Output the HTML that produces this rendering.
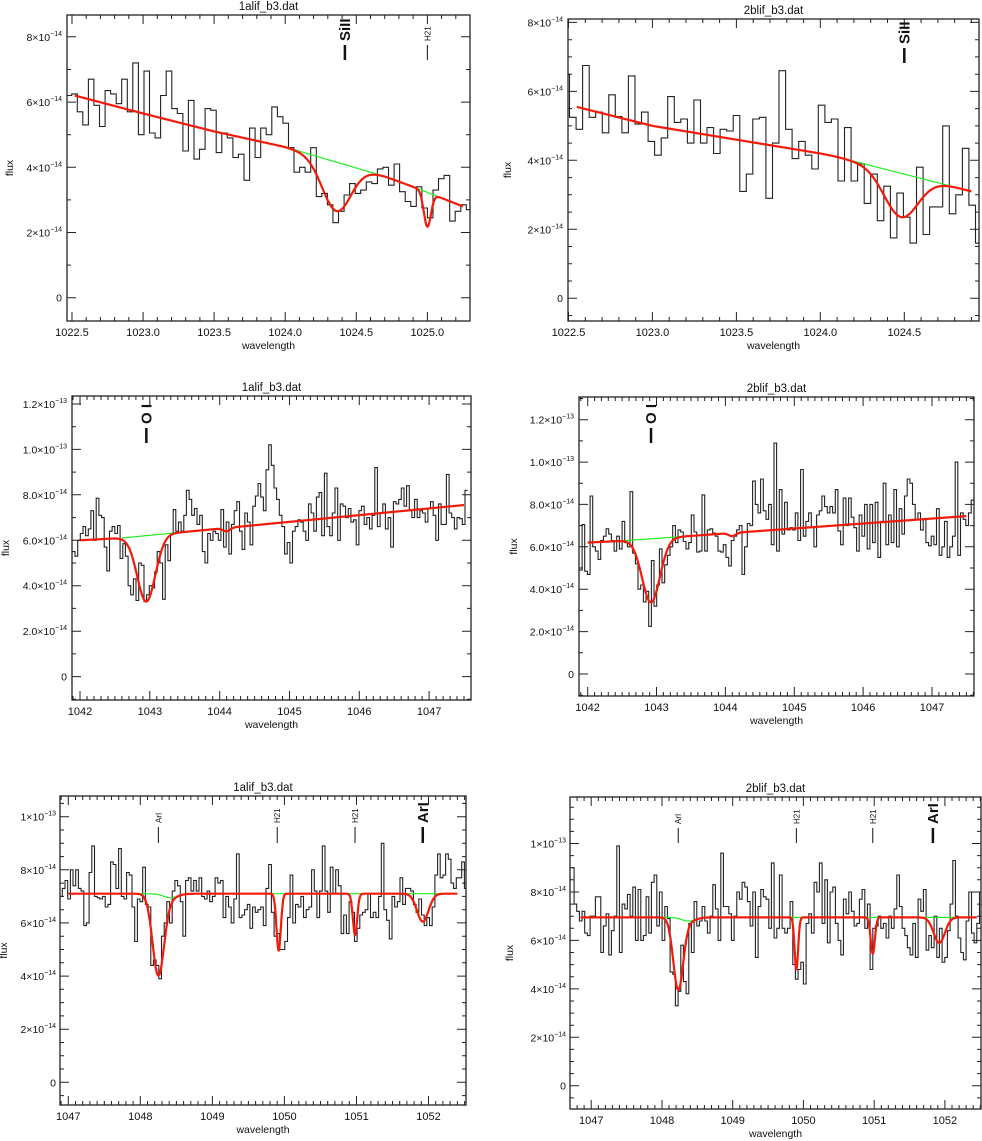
<!DOCTYPE html>
<html><head><meta charset="utf-8">
<style>
html,body{margin:0;padding:0;background:#fff;}
svg{display:block;font-family:"Liberation Sans",sans-serif;}
</style></head>
<body>
<svg id="fig" width="982" height="1141" viewBox="0 0 982 1141" xmlns="http://www.w3.org/2000/svg"></svg>
<script>
// ---- data (flux in units of 1e-14) ----
const p1Flux=[6.2,6.25,5.7,5.3,6.7,5.9,5.25,6.35,6.25,5.95,6.7,5.7,7.2,5.0,6.95,5.05,4.9,6.2,6.95,5.8,5.65,4.5,6.05,4.25,4.55,5.8,5.75,4.45,5.05,4.9,4.3,4.4,3.6,5.2,4.3,5.2,5.0,5.85,5.55,5.35,4.6,3.85,4.0,3.85,4.6,3.1,3.2,2.85,2.3,2.65,3.15,3.5,3.2,3.3,3.55,3.5,3.95,4.0,3.45,4.1,3.25,2.95,2.8,3.4,2.75,2.45,3.3,3.65,3.75,2.35,2.65,2.85,2.7];
const p2Flux=[6.5,5.25,4.9,6.75,5.25,5.4,4.8,5.9,5.27,4.8,6.45,5.05,5.4,4.55,4.15,4.65,5.85,5.1,5.2,4.5,5.75,4.5,4.95,4.2,4.9,4.85,5.3,3.1,3.6,5.2,5.25,2.9,4.5,6.6,4.9,4.05,4.55,4.15,3.75,5.6,5.1,5.2,3.4,4.95,3.4,3.9,2.75,3.6,2.25,3.25,1.75,3.05,2.35,1.6,3.8,1.85,2.65,2.65,5.0,2.45,3.0,4.35,2.7,1.6];
const p3Flux=[5.5,5.3,6.0,6.3,6.6,6.2,6.5,7.3,6.0,7.85,7.1,7.0,5.7,4.65,6.4,6.6,6.3,6.65,5.2,5.85,5.3,4.0,3.6,4.3,3.35,5.0,4.9,3.3,3.6,4.0,3.9,4.6,5.5,5.0,3.4,5.8,5.1,6.3,7.35,6.4,6.8,6.4,7.1,8.2,7.8,7.1,7.4,6.7,7.1,5.5,5.0,6.3,6.0,6.4,6.3,6.0,7.35,5.7,6.8,5.4,6.7,7.3,7.7,6.4,5.6,7.2,6.8,5.8,7.5,7.95,8.5,7.9,7.3,9.1,10.2,9.3,8.3,7.8,7.1,6.6,5.4,5.9,5.0,6.4,6.6,6.9,6.8,6.4,6.0,7.6,7.2,6.4,7.9,8.1,6.2,8.95,6.6,6.2,7.2,8.3,6.0,7.6,7.5,7.0,7.4,6.8,6.9,5.8,7.3,7.5,6.7,7.0,6.5,7.1,9.2,6.6,7.2,7.6,6.5,7.0,5.7,7.7,7.6,7.8,8.3,7.5,8.4,7.3,7.0,7.8,7.0,7.3,7.2,6.8,7.4,7.7,7.1,6.0,7.6,6.7,6.7,8.9,7.2,7.0,6.5,7.0,6.95,6.7,8.2];
const p4Flux=[4.9,7.05,4.85,4.7,8.4,6.0,5.8,5.4,6.3,6.5,6.85,6.6,6.3,5.8,6.5,5.9,7.2,6.2,6.0,8.6,5.7,5.2,4.0,4.2,3.4,3.9,2.25,5.35,3.2,4.2,5.9,4.3,5.15,5.6,6.0,7.0,6.2,6.8,6.7,6.25,5.9,6.2,7.5,6.7,5.75,5.8,8.45,5.8,6.8,6.85,6.65,6.5,5.8,5.75,6.1,5.5,5.1,6.3,6.5,6.8,7.0,4.7,6.0,7.1,7.0,9.1,8.0,7.6,9.2,7.7,7.3,8.0,6.1,10.9,5.8,8.7,6.6,8.1,6.8,6.9,6.8,7.6,6.3,9.65,6.5,7.2,7.6,6.9,6.0,7.5,7.7,8.4,7.9,7.6,7.9,7.6,8.7,6.75,6.1,8.3,7.0,8.3,7.4,6.9,5.8,7.5,6.5,8.0,5.9,8.0,6.2,8.1,5.5,7.2,9.0,6.1,7.5,6.2,8.7,6.0,7.8,6.6,8.4,9.2,9.0,8.0,7.3,7.6,6.8,7.3,6.2,6.05,6.5,6.1,7.8,5.6,6.0,7.2,5.5,6.0,6.5,10.0,5.6,7.6,7.3,7.0,7.6,8.2];
const p5Flux=[7.0,7.3,7.6,6.9,8.0,7.4,8.0,7.3,7.2,5.9,6.0,7.9,8.9,7.0,6.95,6.9,7.0,6.6,6.7,8.3,8.2,7.3,8.8,7.0,6.9,7.9,7.8,6.6,5.3,6.9,6.8,8.1,6.7,6.6,4.4,4.6,4.4,3.9,5.5,6.0,6.8,6.0,7.2,7.6,7.4,6.8,5.5,7.6,7.7,7.2,7.6,7.2,7.7,7.0,6.9,7.2,6.8,7.0,7.7,7.5,7.6,6.2,7.0,6.6,6.0,6.9,8.6,6.2,6.3,6.5,6.7,5.8,6.6,6.4,6.5,6.6,5.9,7.3,8.2,6.4,5.5,5.6,5.0,5.0,5.3,6.2,7.8,6.0,6.7,6.6,7.0,6.2,6.5,6.6,8.0,7.2,6.2,7.2,8.9,7.2,6.4,8.1,7.1,8.0,7.4,5.6,6.3,5.6,6.8,6.4,5.3,5.8,6.3,6.4,6.5,7.1,6.2,6.4,6.2,7.0,9.0,6.5,6.1,5.4,7.0,6.6,6.8,7.7,6.7,7.3,7.3,7.2,6.7,6.4,6.9,6.3,5.9,6.2,5.9,6.6,7.8,8.6,7.7,7.8,8.6,8.4,7.5,7.3,7.7,7.7,8.3,7.3,6.2];
const p6Flux=[9.0,7.5,7.2,6.8,7.2,6.3,6.2,7.0,7.0,7.8,7.8,5.5,6.6,7.1,5.4,6.4,7.0,9.9,5.5,7.5,7.3,7.9,7.0,8.2,6.0,8.1,6.0,6.2,7.8,6.3,8.4,8.7,6.6,8.0,6.0,7.4,6.9,4.7,4.6,3.3,3.9,5.8,4.3,3.8,6.7,5.5,7.6,6.6,6.8,7.4,6.8,6.3,7.0,8.3,7.3,6.0,9.6,7.4,7.4,7.1,6.0,7.0,8.0,7.7,8.4,8.2,7.6,6.6,8.0,5.3,7.4,8.1,7.8,7.7,6.5,9.2,6.1,6.5,8.7,6.5,6.3,6.5,7.6,5.0,4.4,4.8,5.1,4.2,6.7,7.1,6.3,8.4,8.0,9.2,6.7,8.5,5.9,8.0,8.2,6.7,6.0,5.4,7.7,7.1,8.0,7.2,6.6,6.7,7.7,8.1,6.5,7.5,4.8,6.5,6.6,7.0,6.5,6.7,6.1,7.0,6.5,7.3,8.7,7.4,6.5,6.2,5.7,5.4,6.7,5.3,7.7,7.2,8.1,5.6,6.2,5.7,7.0,5.3,6.5,5.1,5.3,6.4,7.5,9.3,7.0,6.1,5.5,5.2,6.8,8.0,6.3,5.9,6.7,8.0];
// continuum nodes [wavelength, flux]
const p1Cont=[[1022.52,6.2],[1023.0,5.65],[1023.5,5.1],[1024.0,4.62],[1024.7,3.72],[1024.9,3.4],[1025.25,2.8]];
const p2Cont=[[1022.55,5.55],[1023.0,5.0],[1023.5,4.6],[1024.0,4.2],[1024.1,4.1],[1024.9,3.1]];
const p3Cont=[[1042.0,6.0],[1042.6,6.1],[1047.5,7.55]];
const p4Cont=[[1042.0,6.2],[1042.5,6.28],[1047.5,7.45]];
const p5Cont=[[1047.0,7.1],[1052.4,7.1]];
const p6Cont=[[1046.85,6.95],[1052.45,6.95]];
// absorption components: centers, depths, widths
const p1Centers=[1024.36,1025.0], p1Depths=[1.5,1.05], p1Sigmas=[0.1,0.025];
const p2Centers=[1024.48], p2Depths=[1.27], p2Sigmas=[0.1];
const p3Centers=[1042.95,1044.1], p3Depths=[2.9,0.15], p3Sigmas=[0.13,0.05];
const p4Centers=[1042.92,1044.1], p4Depths=[3.0,0.15], p4Sigmas=[0.13,0.05];
const p5Centers=[1048.25,1049.92,1050.98,1051.92,1048.42], p5Depths=[3.05,2.15,1.55,1.05,0.15], p5Sigmas=[0.08,0.03,0.03,0.08,0.1];
const p6Centers=[1048.23,1049.9,1050.98,1051.92,1048.38], p6Depths=[2.95,2.15,1.5,1.05,0.15], p6Sigmas=[0.07,0.025,0.03,0.08,0.1];
// line identifications
const p1Lines=["SiII","H21"], p1LineW=[1024.42,1025.0], p1Bold=[1,0];
const p2Lines=["SiII"], p2LineW=[1024.5], p2Bold=[1];
const p3Lines=["O I"], p3LineW=[1042.95], p3Bold=[1];
const p4Lines=["O I"], p4LineW=[1042.92], p4Bold=[1];
const p5Lines=["ArI","H21","H21","ArI"], p5LineW=[1048.25,1049.9,1050.98,1051.92], p5Bold=[0,0,0,1];
const p6Lines=["ArI","H21","H21","ArI"], p6LineW=[1048.23,1049.9,1050.98,1051.83], p6Bold=[0,0,0,1];
const titles=["1alif_b3.dat","2blif_b3.dat","1alif_b3.dat","2blif_b3.dat","1alif_b3.dat","2blif_b3.dat"];

// ---- layout (pixels) ----
const panels=[
 {L:67,R:470,T:15,B:321,x0:1022.465,x1:1025.30,y0:-0.715,y1:8.67,flux:p1Flux,bs:1022.459,bw:0.0391,cont:p1Cont,c:p1Centers,d:p1Depths,s:p1Sigmas,gr:[1024.0,1025.25],gc:[],lines:p1Lines,lw:p1LineW,lb:p1Bold,xmaj:0.5,xmin:0.1,xdec:1,ymaj:2,ymin:1,exp:-14,ydec:0,lineY:[45,60],tx:62,fx:13},
 {L:568,R:979,T:19,B:321,x0:1022.497,x1:1024.945,y0:-0.66,y1:8.1,flux:p2Flux,bs:1022.467,bw:0.039,cont:p2Cont,c:p2Centers,d:p2Depths,s:p2Sigmas,gr:[1024.1,1024.9],gc:[],lines:p2Lines,lw:p2LineW,lb:p2Bold,xmaj:0.5,xmin:0.1,xdec:1,ymaj:2,ymin:0.5,exp:-14,ydec:0,lineY:[48,63],tx:563,fx:511},
 {L:72,R:471,T:396,B:700,x0:1041.885,x1:1047.60,y0:-1.03,y1:12.35,flux:p3Flux,bs:1041.89,bw:0.038,cont:p3Cont,c:p3Centers,d:p3Depths,s:p3Sigmas,gr:[1042.6,1044.3],gc:[1],lines:p3Lines,lw:p3LineW,lb:p3Bold,xmaj:1,xmin:0.1,xdec:0,ymaj:2,ymin:1,exp:null,ydec:1,lineY:[428,443],tx:67,fx:9},
 {L:579,R:974,T:397,B:696,x0:1041.874,x1:1047.61,y0:-1.04,y1:13.07,flux:p4Flux,bs:1041.88,bw:0.0387,cont:p4Cont,c:p4Centers,d:p4Depths,s:p4Sigmas,gr:[1042.5,1044.3],gc:[1],lines:p4Lines,lw:p4LineW,lb:p4Bold,xmaj:1,xmin:0.1,xdec:0,ymaj:2,ymin:1,exp:null,ydec:1,lineY:[428,443],tx:574,fx:517},
 {L:60,R:466,T:796,B:1105,x0:1046.885,x1:1052.52,y0:-0.855,y1:10.78,flux:p5Flux,bs:1046.88,bw:0.0372,cont:p5Cont,c:p5Centers,d:p5Depths,s:p5Sigmas,gr:[1047.0,1052.4],gc:[4],lines:p5Lines,lw:p5LineW,lb:p5Bold,xmaj:1,xmin:0.1,xdec:0,ymaj:2,ymin:0.5,exp:null,ydec:0,lineY:[827,843],tx:56,fx:7},
 {L:570,R:981,T:797,B:1109,x0:1046.70,x1:1052.51,y0:-0.96,y1:11.92,flux:p6Flux,bs:1046.72,bw:0.0377,cont:p6Cont,c:p6Centers,d:p6Depths,s:p6Sigmas,gr:[1046.85,1052.45],gc:[4],lines:p6Lines,lw:p6LineW,lb:p6Bold,xmaj:1,xmin:0.1,xdec:0,ymaj:2,ymin:0.5,exp:null,ydec:0,lineY:[828,843],tx:566,fx:513}
];

const NS="http://www.w3.org/2000/svg";
const svg=document.getElementById('fig');
function mk(tag,attrs,parent){const e=document.createElementNS(NS,tag);for(const k in attrs)e.setAttribute(k,attrs[k]);(parent||svg).appendChild(e);return e;}

function contAt(nodes,x){
  if(x<=nodes[0][0])return nodes[0][1];
  for(let i=1;i<nodes.length;i++){if(x<=nodes[i][0]){const a=nodes[i-1],b=nodes[i];return a[1]+(b[1]-a[1])*(x-a[0])/(b[0]-a[0]);}}
  return nodes[nodes.length-1][1];
}
function ylab(v,p){
  if(v===0)return {m:"0",e:null};
  if(p.exp===-14)return {m:v+"\u00d710",e:"\u221214"};
  if(v>=10){const m=(v/10);return {m:(p.ydec?m.toFixed(1):String(m))+"\u00d710",e:"\u221213"};}
  return {m:(p.ydec?v.toFixed(1):String(v))+"\u00d710",e:"\u221214"};
}

panels.forEach((p,idx)=>{
  const g=mk('g',{});
  
  
  const X=w=>p.L+(w-p.x0)/(p.x1-p.x0)*(p.R-p.L);
  const Y=f=>p.B-(f-p.y0)/(p.y1-p.y0)*(p.B-p.T);
  const clipId='clip'+idx;
  const cp=mk('clipPath',{id:clipId},g);mk('rect',{x:p.L,y:p.T,width:p.R-p.L,height:p.B-p.T},cp);
  let d='';
  p.flux.forEach((f,i)=>{const xa=X(p.bs+i*p.bw),xb=X(p.bs+(i+1)*p.bw),y=Y(f);d+=(i===0?'M':'L')+xa.toFixed(1)+','+y.toFixed(1)+'L'+xb.toFixed(1)+','+y.toFixed(1);});
  const h=mk('path',{d:d,fill:'none',stroke:'#222','stroke-width':1.1,'clip-path':'url(#'+clipId+')'},g);
  
  
  const model=(x,skip)=>{let v=contAt(p.cont,x);p.c.forEach((c,k)=>{if(skip&&!skip.includes(k))return;v-=p.d[k]*Math.exp(-0.5*Math.pow((x-c)/p.s[k],2));});return v;};
  let gd='';const n=300;
  for(let i=0;i<=n;i++){const x=p.gr[0]+(p.gr[1]-p.gr[0])*i/n;gd+=(i?'L':'M')+X(x).toFixed(1)+','+Y(model(x,p.gc)).toFixed(1);}
  const gp=mk('path',{d:gd,fill:'none',stroke:'#22ee22','stroke-width':1.2},g);
  
  
  const c0=p.cont[0][0],c1=p.cont[p.cont.length-1][0];
  let rd='';const m=800;
  for(let i=0;i<=m;i++){const x=c0+(c1-c0)*i/m;rd+=(i?'L':'M')+X(x).toFixed(1)+','+Y(model(x,null)).toFixed(1);}
  const rp=mk('path',{d:rd,fill:'none',stroke:'#f21a0a','stroke-width':2.2,'stroke-linejoin':'round'},g);
  
  
  const fr=mk('rect',{x:p.L,y:p.T,width:p.R-p.L,height:p.B-p.T,fill:'none',stroke:'#222','stroke-width':1.3},g);
  
  
  let td='';
  const nmin=Math.round((p.x1-p.x0)/p.xmin)+2;
  const start=Math.ceil(p.x0/p.xmin)*p.xmin;
  for(let i=0;i<nmin;i++){const w=+(start+i*p.xmin).toFixed(4);if(w>p.x1)break;const xx=X(w);
    const major=Math.abs(w/p.xmaj-Math.round(w/p.xmaj))<1e-6;const len=major?9:4;
    td+='M'+xx.toFixed(1)+','+p.B+'v'+(-len)+'M'+xx.toFixed(1)+','+p.T+'v'+len;
    if(major){const t=mk('text',{x:xx,y:p.B+15,'text-anchor':'middle','font-size':11,fill:'#111'},g);t.textContent=w.toFixed(p.xdec);
      
      }
  }
  const ys=Math.ceil(p.y0/p.ymin)*p.ymin;
  for(let v=ys;v<=p.y1+1e-9;v+=p.ymin){const vv=+v.toFixed(4);const yy=Y(vv);
    const major=Math.abs(vv/p.ymaj-Math.round(vv/p.ymaj))<1e-6;const len=major?9:4;
    td+='M'+p.L+','+yy.toFixed(1)+'h'+len+'M'+p.R+','+yy.toFixed(1)+'h'+(-len);
    if(major){const lab=ylab(vv,p);
      const t=mk('text',{x:p.tx,y:yy+4,'text-anchor':'end','font-size':10.5,fill:'#111'},g);
      
      
      if(lab.e){const a=mk('tspan',{},t);a.textContent=lab.m;const b=mk('tspan',{'font-size':7,dy:-5},t);b.textContent=lab.e;}
      else t.textContent=lab.m;}
  }
  const tp=mk('path',{d:td,fill:'none',stroke:'#222','stroke-width':1},g);
  
  
  const cx=(p.L+p.R)/2;
  const tt=mk('text',{x:cx,y:p.T-5,'text-anchor':'middle','font-size':11.5,fill:'#111'},g);tt.textContent=titles[idx];
  
  
  const xt=mk('text',{x:cx,y:p.B+28,'text-anchor':'middle','font-size':10.5,fill:'#111'},g);xt.textContent='wavelength';
  
  
  const fy=(p.T+p.B)/2,fx=p.fx;
  const yt=mk('text',{x:fx,y:fy,'text-anchor':'middle','font-size':10.5,fill:'#111',transform:'rotate(-90 '+fx+' '+fy+')'},g);yt.textContent='flux';
  
  
  p.lines.forEach((name,k)=>{
    const xx=X(p.lw[k]);const bold=p.lb[k];
    const ln=mk('line',{x1:xx,x2:xx,y1:p.lineY[0],y2:p.lineY[1],stroke:'#111','stroke-width':bold?2.5:1},g);
    
    
    const ty=p.lineY[0]-4;
    const t=mk('text',{x:xx+(bold?5:3),y:ty,'font-size':bold?15:8,'font-weight':bold?'bold':'normal',fill:'#111',transform:'rotate(-90 '+(xx+(bold?5:3))+' '+ty+')'},g);
    t.textContent=name;
    
    
  });
});
</script>
</body></html>
